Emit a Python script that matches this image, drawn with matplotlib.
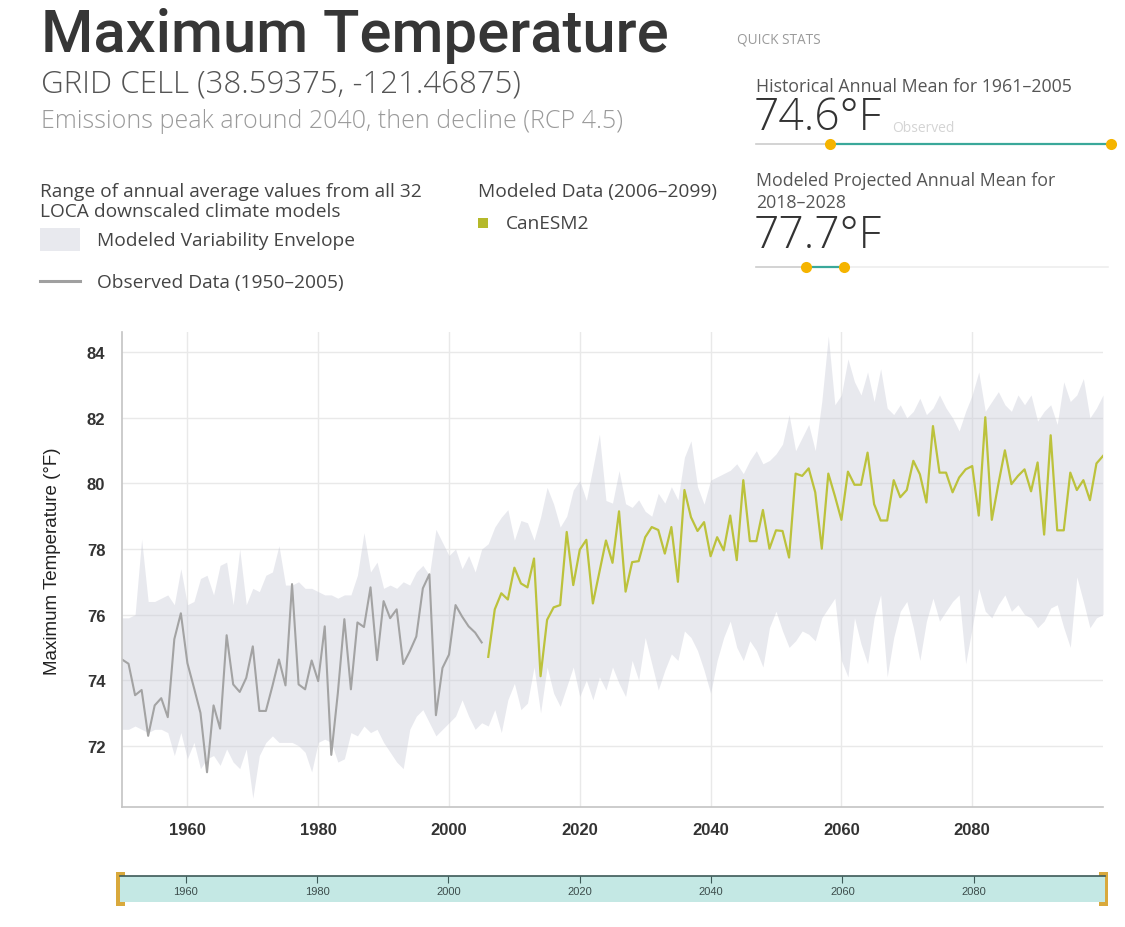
import matplotlib
matplotlib.use("Agg")
import matplotlib.pyplot as plt
from matplotlib.patches import Rectangle
from matplotlib.lines import Line2D

# ---------------- data ----------------
obs_years = list(range(1950, 2006))
obs_vals = [74.63, 74.5, 73.54, 73.7, 72.3, 73.23, 73.45, 72.87, 75.25, 76.04,
            74.52, 73.77, 73.0, 71.19, 73.23, 72.52, 75.37, 73.87, 73.64, 74.07,
            75.03, 73.06, 73.06, 73.82, 74.63, 73.84, 76.93, 73.87, 73.72, 74.6,
            73.97, 75.64, 71.72, 73.6, 75.86, 73.72, 75.76, 75.62, 76.83, 74.61,
            76.41, 75.89, 76.16, 74.49, 74.88, 75.33, 76.8, 77.23, 72.93, 74.37,
            74.78, 76.29, 75.94, 75.64, 75.45, 75.15]

mod_years = list(range(2006, 2101))
mod_vals = [74.71, 76.16, 76.65, 76.46, 77.43, 76.95, 76.83, 77.71, 74.12, 75.84,
            76.22, 76.29, 78.52, 76.9, 77.98, 78.28, 76.34, 77.3, 78.26, 77.58,
            79.15, 76.7, 77.6, 77.63, 78.36, 78.67, 78.58, 77.86, 78.67, 77.0,
            79.8, 78.97, 78.55, 78.82, 77.78, 78.36, 77.96, 79.02, 77.66, 80.1,
            78.24, 78.24, 79.19, 78.01, 78.57, 78.55, 77.74, 80.3, 80.23, 80.46,
            79.73, 78.01, 80.3, 79.62, 78.89, 80.36, 79.96, 79.96, 80.94, 79.37,
            78.87, 78.87, 80.1, 79.58, 79.8, 80.69, 80.28, 79.42, 81.75, 80.33,
            80.33, 79.73, 80.18, 80.43, 80.53, 79.02, 82.02, 78.89, 79.98, 81.01,
            79.98, 80.23, 80.43, 79.76, 80.64, 78.44, 81.47, 78.57, 78.57, 80.33,
            79.8, 80.1, 79.49, 80.61, 80.84]

env_years = list(range(1950, 2101))
env_upper = [75.9, 75.9, 76.0, 78.3, 76.4, 76.4, 76.5, 76.6, 76.3, 77.4,
             76.3, 76.4, 77.1, 77.2, 76.6, 77.5, 77.6, 76.3, 78.0, 76.3,
             76.8, 76.7, 77.2, 77.3, 78.1, 76.9, 76.9, 77.0, 76.8, 76.8,
             76.7, 76.6, 76.6, 76.5, 76.6, 76.6, 77.2, 78.5, 77.3, 77.6,
             76.8, 76.9, 76.8, 77.0, 76.9, 77.3, 77.5, 77.2, 78.6, 78.2,
             77.8, 78.0, 77.4, 77.8, 77.3, 78.0, 78.16, 78.67, 78.97, 79.2,
             78.27, 78.87, 78.8, 78.27, 78.97, 79.88, 79.37, 78.67, 79.0, 79.8,
             80.09, 79.48, 80.48, 81.5, 79.48, 79.4, 80.39, 79.38, 79.27, 79.5,
             79.15, 79.0, 79.7, 79.4, 79.9, 79.5, 80.8, 81.3, 79.9, 79.37,
             80.1, 80.2, 80.3, 80.4, 80.6, 80.3, 80.7, 81.0, 80.6, 80.7,
             80.9, 81.2, 82.1, 81.0, 81.4, 81.8, 81.0, 82.5, 84.5, 82.4,
             82.7, 83.8, 83.1, 82.7, 83.4, 82.5, 83.5, 82.3, 82.1, 82.4,
             82.0, 82.2, 82.6, 82.1, 82.3, 82.7, 82.3, 82.0, 81.6, 82.2,
             82.7, 83.4, 82.2, 82.5, 82.8, 82.4, 82.2, 82.7, 82.4, 82.7,
             81.9, 82.2, 82.4, 81.8, 83.1, 82.5, 82.7, 83.2, 82.0, 82.3,
             82.7]
env_lower = [72.5, 72.5, 72.6, 72.5, 72.4, 72.5, 72.5, 72.4, 71.7, 72.4,
             71.6, 72.1, 71.3, 71.6, 71.7, 71.4, 71.9, 71.5, 71.3, 71.9,
             70.4, 71.7, 72.1, 72.3, 72.1, 72.1, 72.1, 72.0, 71.8, 71.2,
             72.1, 72.2, 72.1, 71.5, 71.6, 72.4, 72.3, 72.6, 72.4, 72.5,
             72.1, 71.8, 71.5, 71.3, 72.5, 72.9, 73.1, 72.7, 72.3, 72.5,
             72.7, 72.9, 73.4, 72.9, 72.5, 72.7, 72.6, 73.1, 72.4, 73.4,
             73.9, 73.1, 73.3, 74.4, 73.0, 74.4, 73.6, 73.2, 73.8, 74.4,
             73.5, 74.0, 73.4, 74.1, 73.7, 74.4, 73.9, 73.5, 74.6, 74.0,
             75.3, 74.5, 73.7, 74.3, 74.8, 74.6, 75.5, 75.3, 74.9, 74.3,
             73.6, 74.6, 75.3, 75.8, 75.0, 74.6, 75.2, 74.9, 74.4, 75.6,
             76.1, 75.5, 75.0, 75.2, 75.5, 75.4, 75.2, 75.9, 76.2, 76.5,
             74.6, 74.1, 75.9, 75.1, 74.5, 75.9, 76.6, 74.1, 75.3, 76.1,
             76.4, 75.6, 74.6, 75.8, 76.5, 75.8, 76.1, 76.4, 76.6, 74.5,
             75.6, 76.8, 76.1, 75.9, 76.3, 76.6, 76.1, 76.3, 76.0, 75.9,
             75.6, 75.8, 76.2, 76.3, 75.6, 75.0, 77.15, 76.4, 75.6, 75.9,
             76.0]

x_ticks = [1960, 1980, 2000, 2020, 2040, 2060, 2080]
y_ticks = [72, 74, 76, 78, 80, 82, 84]

title = "Maximum Temperature"
subtitle = "GRID CELL (38.59375, -121.46875)"
scenario = "Emissions peak around 2040, then decline (RCP 4.5)"

# ---------------- figure ----------------
W, H = 1125, 928
fig = plt.figure(figsize=(W / 100, H / 100), dpi=100)
fig.patch.set_facecolor("white")

ENV_C = "#c9cbd8"
OBS_C = "#a3a3a3"
MOD_C = "#bcc23c"
TEAL = "#3aa89a"
GOLD = "#f5b400"

# overlay axes in pixel coordinates for header / UI elements
ov = fig.add_axes([0, 0, 1, 1])
ov.set_xlim(0, W)
ov.set_ylim(H, 0)
ov.axis("off")
ov.patch.set_visible(False)

def T(x, y, s, size, color, weight="normal", family="Open Sans", va="center", ha="left"):
    ov.text(x, y, s, fontsize=size, color=color, fontweight=weight,
            family=[family, "DejaVu Sans"], va=va, ha=ha)

T(41, 36, title, 43, "#363636", weight=500, family="Roboto")
T(41, 85, subtitle, 22.5, "#555555", weight="light")
T(41, 121, scenario, 18, "#9a9a9a", weight="light")

LS = 13.8
T(40, 192, "Range of annual average values from all 32", LS, "#444444")
T(40, 212, "LOCA downscaled climate models", LS, "#444444")
ov.add_patch(Rectangle((40, 229), 40, 23, color="#e8e9ee", lw=0))
T(97, 241, "Modeled Variability Envelope", LS, "#444444")
ov.add_line(Line2D([40, 80], [282, 282], color="#a0a0a0", lw=2.2))
T(97, 283, "Observed Data (1950\u20132005)", LS, "#444444")

T(478, 192, "Modeled Data (2006\u20132099)", LS, "#444444")
ov.add_patch(Rectangle((478, 219), 10, 10, color="#b5b92a", lw=0))
T(506, 224, "CanESM2", LS, "#444444")

QS = 12.8
T(737, 40, "QUICK STATS", 9.8, "#9a9a9a")
T(756, 87, "Historical Annual Mean for 1961\u20132005", QS, "#555555")
T(754, 119, "74.6\u00b0F", 32, "#333333", weight="light")
T(892, 128, "Observed", 10, "#d4d4d4")
ov.add_line(Line2D([756, 830], [145, 145], color="#cccccc", lw=1.2))
ov.add_line(Line2D([830, 1111], [145, 145], color=TEAL, lw=1.6))
ov.plot([830, 1111], [145, 145], "o", color=GOLD, ms=8, mec="none")

T(756, 181, "Modeled Projected Annual Mean for", QS, "#555555")
T(756, 203, "2018\u20132028", QS, "#555555")
T(754, 237, "77.7\u00b0F", 32, "#333333", weight="light")
ov.add_line(Line2D([756, 806], [268, 268], color="#cccccc", lw=1.2))
ov.add_line(Line2D([844, 1108], [268, 268], color="#eeeeee", lw=1.2))
ov.add_line(Line2D([806, 844], [268, 268], color=TEAL, lw=1.6))
ov.plot([806, 844], [268, 268], "o", color=GOLD, ms=8, mec="none")

# ---------------- main chart ----------------
ax = fig.add_axes([122 / W, 1 - 808 / H, 981 / W, 475 / H])
ax.set_xlim(1950, 2100)
ax.set_ylim(70.13, 84.62)
ax.set_axisbelow(True)
ax.grid(True, color="#e9e9e9", lw=1.0)
for s in ["top", "right"]:
    ax.spines[s].set_visible(False)
for s in ["left", "bottom"]:
    ax.spines[s].set_color("#c4c4c4")
    ax.spines[s].set_linewidth(1.2)

ax.fill_between(env_years, env_lower, env_upper, color=ENV_C, alpha=0.42, lw=0)
ax.plot(obs_years, obs_vals, color=OBS_C, lw=1.5)
ax.plot(mod_years, mod_vals, color=MOD_C, lw=1.6)

ax.set_xticks(x_ticks)
ax.set_yticks(y_ticks)
ax.tick_params(length=0, labelsize=12, labelcolor="#333333", pad=12)
for lab in ax.get_xticklabels() + ax.get_yticklabels():
    lab.set_family(["Liberation Sans", "DejaVu Sans"])
    lab.set_fontweight("bold")
ax.tick_params(axis="x", pad=11)
ax.set_ylabel("Maximum Temperature (\u00b0F)", fontsize=13.5, color="#222222",
              family=["Liberation Sans", "DejaVu Sans"])
ax.yaxis.set_label_coords(-0.062, 0.52)

# ---------------- range slider ----------------
sl = fig.add_axes([120 / W, 1 - 903 / H, 985 / W, 26 / H])
sl.set_xlim(1950, 2100)
sl.set_ylim(0, 1)
sl.set_facecolor("#c4e8e4")
for s in ["left", "right", "bottom"]:
    sl.spines[s].set_visible(False)
sl.spines["top"].set_color("#3d5a58")
sl.spines["top"].set_linewidth(1.2)
sl.set_yticks([])
sl.set_xticks(x_ticks)
sl.tick_params(axis="x", top=True, bottom=False, labelbottom=False, labeltop=False,
               direction="in", length=5, color="#3d5a58")
for yr in x_ticks:
    sl.text(yr, 0.42, str(yr), fontsize=8, color="#3d4d4c", ha="center", va="center",
            family=["Liberation Sans", "DejaVu Sans"])
ov.add_patch(Rectangle((116, 873), 9, 34, color="#d9a93c", lw=0, zorder=5))
ov.add_patch(Rectangle((1099, 873), 9, 34, color="#d9a93c", lw=0, zorder=5))

fig.savefig("out.png", dpi=100, facecolor="white")
